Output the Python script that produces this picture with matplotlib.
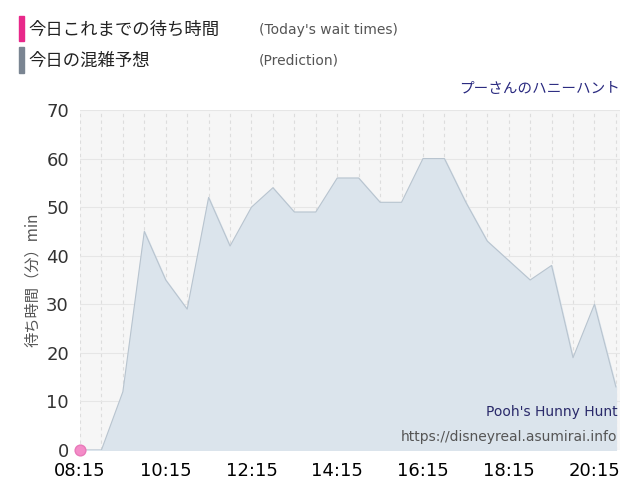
import matplotlib
matplotlib.use("Agg")
import matplotlib.pyplot as plt
import numpy as np

plt.rcParams["font.family"] = ["Noto Sans CJK JP", "DejaVu Sans"]

# half-hour slots starting 08:15
pred_vals = [0, 0, 12, 45, 35, 29, 52, 42, 50, 54, 49, 49, 56, 56, 51, 51, 60, 60, 51, 43, 39, 35, 38, 19, 30, 13]
today_vals = [0]
tick_labels = ["08:15", "10:15", "12:15", "14:15", "16:15", "18:15", "20:15"]

x_pred = np.arange(len(pred_vals)) * 0.5
x_today = np.arange(len(today_vals)) * 0.5

fig = plt.figure(figsize=(6.4, 5.0), dpi=100)
ax = fig.add_axes([0.125, 0.1, 0.844, 0.68])
ax.set_facecolor("#f6f6f6")
ax.fill_between(x_pred, pred_vals, color="#dbe4ec", alpha=1, zorder=2)
ax.plot(x_pred, pred_vals, color="#b8c4cf", lw=0.8, zorder=3)
ax.scatter(x_today, today_vals, s=60, color="#f48cc8", edgecolor="#e879b9", zorder=5, clip_on=False)

ax.set_xlim(0, 12.6)
ax.set_ylim(0, 70)
ax.set_xticks(np.arange(len(tick_labels)) * 2)
ax.set_xticklabels(tick_labels, fontsize=13, fontfamily="DejaVu Sans")
ax.set_yticks(range(0, 71, 10))
ax.set_yticklabels([str(v) for v in range(0, 71, 10)], fontsize=13, fontfamily="DejaVu Sans", color="#333333")
ax.set_xticks(np.arange(0, 12.6, 0.5), minor=True)
ax.grid(axis="x", which="both", color="#dddddd", ls=(0, (3, 3)), lw=0.8, zorder=1)
ax.grid(axis="y", color="#e6e6e6", lw=0.8, zorder=1)
ax.tick_params(length=0, which="both")
ax.tick_params(axis="x", pad=9)
ax.tick_params(axis="y", pad=8)
for s in ax.spines.values():
    s.set_visible(False)
ax.set_ylabel("待ち時間（分）min", fontsize=11, color="#555555")

ax.text(0.995, 0.10, "Pooh's Hunny Hunt", transform=ax.transAxes, ha="right", fontsize=10, color="#2a2a6a", fontfamily="DejaVu Sans")
ax.text(0.995, 0.025, "https://disneyreal.asumirai.info", transform=ax.transAxes, ha="right", fontsize=10, color="#555555", fontfamily="DejaVu Sans")
fig.text(0.969, 0.815, "プーさんのハニーハント", ha="right", fontsize=10.5, color="#2a2a80")

fig.patches.append(plt.Rectangle((0.03, 0.918), 0.008, 0.05, transform=fig.transFigure, color="#e8288a"))
fig.patches.append(plt.Rectangle((0.03, 0.855), 0.008, 0.05, transform=fig.transFigure, color="#7a8592"))
fig.text(0.045, 0.94, "今日これまでの待ち時間", fontsize=12.5, va="center", color="#222222")
fig.text(0.045, 0.878, "今日の混雑予想", fontsize=12.5, va="center", color="#222222")
fig.text(0.405, 0.94, "(Today's wait times)", fontsize=10, va="center", color="#555555", fontfamily="DejaVu Sans")
fig.text(0.405, 0.878, "(Prediction)", fontsize=10, va="center", color="#555555", fontfamily="DejaVu Sans")

fig.savefig("out.png", dpi=100, facecolor="white")
